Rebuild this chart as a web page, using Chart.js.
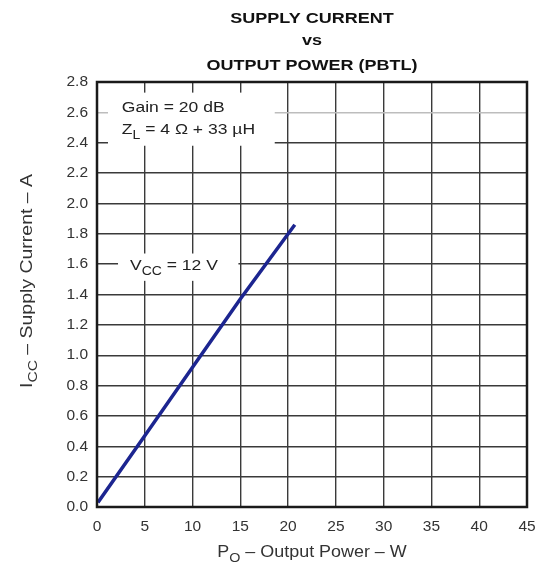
<!DOCTYPE html>
<html>
<head>
<meta charset="utf-8">
<script src="https://cdn.jsdelivr.net/npm/chart.js@4/dist/chart.umd.min.js"></script>
<style>
  html, body { margin: 0; padding: 0; background: #fff; }
  #wrap { width: 543px; height: 566px; }
</style>
</head>
<body>
<div id="wrap"><canvas id="chart" width="543" height="566"></canvas></div>
<script>
// data (Vcc = 12 V)
const powerW = [0.1, 5, 10, 15, 20.7];
const currentA = [0.03, 0.47, 0.92, 1.37, 1.86];

const xTicks = [0, 5, 10, 15, 20, 25, 30, 35, 40, 45];
const yTicks = [0, 0.2, 0.4, 0.6, 0.8, 1.0, 1.2, 1.4, 1.6, 1.8, 2.0, 2.2, 2.4, 2.6, 2.8];

const titleLines = ["SUPPLY CURRENT", "vs", "OUTPUT POWER (PBTL)"];
const FONT = "'Liberation Sans', Arial, sans-serif";

// text with subscript pieces, hs = horizontal stretch (the scan is a bit wide)
function drawParts(ctx, parts, x, y, size, align, hs, weight) {
    hs = hs || 1;
    weight = weight || "";
    const fontOf = p => weight + " " + (p.sub ? size * 0.8 : size) + "px " + FONT;
    let w = 0;
    parts.forEach(p => {
        ctx.font = fontOf(p);
        w += ctx.measureText(p.t).width;
    });
    ctx.save();
    ctx.translate(x, y);
    ctx.scale(hs, 1);
    ctx.textAlign = "left";
    let cx = align === "center" ? -w / 2 : 0;
    parts.forEach(p => {
        ctx.font = fontOf(p);
        ctx.fillText(p.t, cx, p.sub ? size * 0.3 : 0);
        cx += ctx.measureText(p.t).width;
    });
    ctx.restore();
}

const decor = {
    id: "decor",
    beforeDatasetsDraw(chart) {
        const ctx = chart.ctx;
        const xs = chart.scales.x, ys = chart.scales.y;
        ctx.save();
        // white label boxes over the grid
        ctx.fillStyle = "#fff";
        ctx.fillRect(xs.getPixelForValue(1.15), ys.getPixelForValue(2.73),
            xs.getPixelForValue(18.6) - xs.getPixelForValue(1.15),
            ys.getPixelForValue(2.38) - ys.getPixelForValue(2.73));
        ctx.fillRect(xs.getPixelForValue(2.2), ys.getPixelForValue(1.67),
            xs.getPixelForValue(14.8) - xs.getPixelForValue(2.2),
            ys.getPixelForValue(1.49) - ys.getPixelForValue(1.67));

        ctx.fillStyle = "#222";
        ctx.textBaseline = "alphabetic";
        drawParts(ctx, [{t: "Gain = 20 dB"}], xs.getPixelForValue(2.6), ys.getPixelForValue(2.6), 15.5, "left", 1.13);
        drawParts(ctx, [{t: "Z"}, {t: "L", sub: true}, {t: " = 4 Ω + 33 µH"}],
            xs.getPixelForValue(2.6), ys.getPixelForValue(2.455), 15.5, "left", 1.13);
        drawParts(ctx, [{t: "V"}, {t: "CC", sub: true}, {t: " = 12 V"}],
            xs.getPixelForValue(3.45), ys.getPixelForValue(1.56), 15.5, "left", 1.13);
        ctx.restore();
    },
    afterDatasetsDraw(chart) {
        const ctx = chart.ctx;
        const a = chart.chartArea;
        ctx.save();
        ctx.strokeStyle = "#1a1a1a";
        ctx.lineWidth = 2.5;
        ctx.strokeRect(a.left, a.top, a.right - a.left, a.bottom - a.top);

        // title
        const cx = (a.left + a.right) / 2;
        ctx.fillStyle = "#111";
        ctx.textBaseline = "alphabetic";
        drawParts(ctx, [{t: titleLines[0]}], cx, 23, 15, "center", 1.2, "bold");
        drawParts(ctx, [{t: titleLines[1]}], cx, 45, 15, "center", 1.2, "bold");
        drawParts(ctx, [{t: titleLines[2]}], cx, 70, 15, "center", 1.2, "bold");

        // axis titles
        ctx.fillStyle = "#333";
        drawParts(ctx, [{t: "P"}, {t: "O", sub: true}, {t: " – Output Power – W"}], cx, 557, 16, "center", 1.12);
        ctx.translate(32, 281);
        ctx.rotate(-Math.PI / 2);
        drawParts(ctx, [{t: "I"}, {t: "CC", sub: true}, {t: " – Supply Current – A"}], 0, 0, 16.5, "center", 1.18);
        ctx.restore();
    }
};

new Chart(document.getElementById("chart"), {
    type: "line",
    data: {
        datasets: [{
            data: powerW.map((p, i) => ({x: p, y: currentA[i]})),
            borderColor: "#1c2590",
            borderWidth: 3.5,
            pointRadius: 0,
            tension: 0,
            fill: false
        }]
    },
    options: {
        responsive: false,
        animation: false,
        layout: { padding: { top: 82, right: 16, left: 0, bottom: 0 } },
        plugins: { legend: { display: false }, tooltip: { enabled: false } },
        scales: {
            x: {
                type: "linear",
                min: 0, max: 45,
                afterBuildTicks: s => { s.ticks = xTicks.map(v => ({value: v})); },
                afterFit: s => { s.height = 59; s.paddingLeft = 0; s.paddingRight = 0; },
                grid: { color: "#3a3a3a", lineWidth: 1.4, drawTicks: false },
                border: { display: false },
                ticks: { padding: 10, color: "#333", font: { size: 15.5, family: FONT } }
            },
            y: {
                min: 0, max: 2.8,
                afterBuildTicks: s => { s.ticks = yTicks.map(v => ({value: v})); },
                afterFit: s => { s.width = 97; s.paddingTop = 0; s.paddingBottom = 0; },
                grid: {
                    color: c => Math.abs(c.tick.value - 2.6) < 1e-6 ? "#bdbdbd" : "#3a3a3a",
                    lineWidth: 1.4,
                    drawTicks: false
                },
                border: { display: false },
                ticks: {
                    padding: 9, color: "#333", font: { size: 15.5, family: FONT },
                    callback: v => v.toFixed(1)
                }
            }
        }
    },
    plugins: [decor]
});
</script>
</body>
</html>
